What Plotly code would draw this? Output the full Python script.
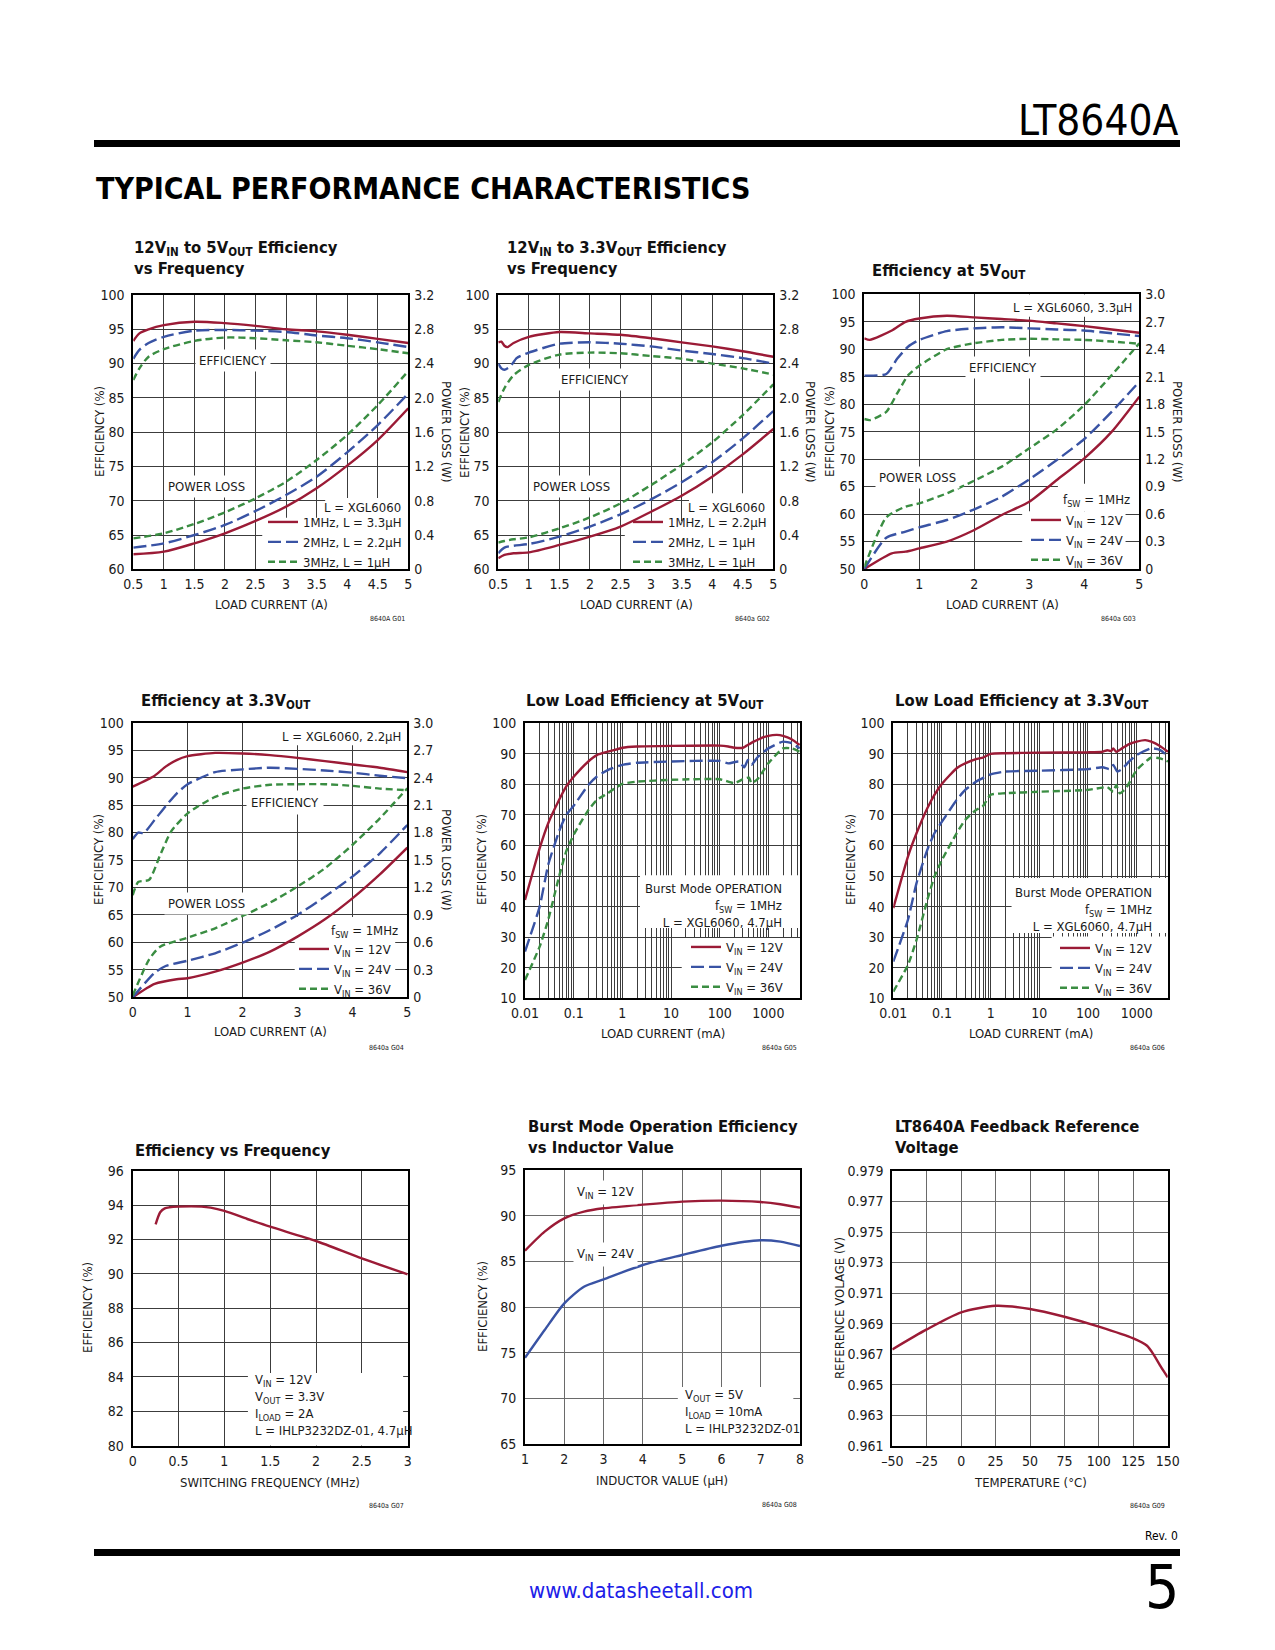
import plotly.graph_objects as go

# ---------------- data ----------------
# Chart 1: 12VIN to 5VOUT efficiency vs frequency
c1_eff_x = [0.5, 0.6, 0.75, 1.0, 1.5, 2.0, 2.5, 3.0, 3.5, 4.0, 4.5, 5.0]
c1_eff_1mhz = [93.3, 94.4, 95.0, 95.6, 96.1, 95.9, 95.5, 95.0, 94.7, 94.2, 93.6, 93.0]
c1_eff_2mhz = [90.7, 92.0, 93.0, 93.9, 94.8, 94.9, 94.8, 94.6, 94.1, 93.7, 93.1, 92.4]
c1_eff_3mhz = [87.6, 89.3, 91.0, 92.1, 93.3, 93.8, 93.7, 93.4, 93.1, 92.6, 92.1, 91.5]
c1_loss_x = [0.5, 1.0, 1.5, 2.0, 2.5, 3.0, 3.5, 4.0, 4.5, 5.0]
c1_loss_1mhz = [0.175, 0.206, 0.303, 0.42, 0.564, 0.731, 0.945, 1.209, 1.508, 1.878]
c1_loss_2mhz = [0.253, 0.303, 0.40, 0.517, 0.680, 0.867, 1.081, 1.364, 1.683, 2.052]
c1_loss_3mhz = [0.361, 0.42, 0.529, 0.665, 0.828, 1.022, 1.275, 1.567, 1.916, 2.313]

# Chart 2: 12VIN to 3.3VOUT efficiency vs frequency
c2_red_x = [0.5, 0.55, 0.6, 0.65, 0.75, 1.0, 1.5, 2.0, 2.5, 3.0, 3.5, 4.0, 4.5, 5.0]
c2_eff_1mhz = [93.1, 93.2, 92.6, 92.4, 93.0, 93.9, 94.6, 94.4, 94.2, 93.7, 93.1, 92.5, 91.8, 91.0]
c2_blue_x = [0.5, 0.55, 0.6, 0.7, 0.8, 1.0, 1.5, 2.0, 2.5, 3.0, 3.5, 4.0, 4.5, 5.0]
c2_eff_2mhz = [90.0, 89.3, 89.1, 89.6, 90.8, 91.6, 92.9, 93.1, 92.9, 92.5, 91.9, 91.4, 90.8, 90.0]
c2_green_x = [0.5, 0.6, 0.75, 1.0, 1.5, 2.0, 2.5, 3.0, 3.5, 4.0, 4.5, 5.0]
c2_eff_3mhz = [84.4, 86.4, 88.3, 89.8, 91.3, 91.6, 91.5, 91.1, 90.7, 90.0, 89.3, 88.4]
c2_loss_x = [0.5, 0.6, 0.75, 1.0, 1.5, 2.0, 2.5, 3.0, 3.5, 4.0, 4.5, 5.0]
c2_loss_1mhz = [0.128, 0.167, 0.187, 0.198, 0.284, 0.381, 0.498, 0.672, 0.859, 1.081, 1.341, 1.637]
c2_loss_2mhz = [0.187, 0.253, 0.275, 0.295, 0.381, 0.498, 0.641, 0.816, 1.015, 1.248, 1.528, 1.846]
c2_loss_3mhz = [0.311, 0.330, 0.350, 0.373, 0.478, 0.606, 0.770, 0.983, 1.217, 1.481, 1.80, 2.157]

# Chart 3: efficiency at 5VOUT
c3_red_x = [0, 0.1, 0.5, 0.75, 1.0, 1.5, 2.0, 2.5, 3.0, 3.5, 4.0, 4.5, 5.0]
c3_eff_12v = [92.0, 91.7, 93.4, 95.0, 95.6, 96.1, 95.8, 95.5, 95.2, 94.7, 94.2, 93.6, 93.0]
c3_blue_x = [0, 0.4, 0.6, 0.8, 1.0, 1.5, 2.0, 2.5, 3.0, 3.5, 4.0, 4.5, 5.0]
c3_eff_24v = [85.2, 85.5, 88.3, 90.5, 91.7, 93.3, 93.8, 94.0, 93.8, 93.6, 93.4, 92.9, 92.4]
c3_green_x = [0, 0.1, 0.4, 0.6, 0.8, 1.0, 1.5, 2.0, 2.5, 3.0, 3.5, 4.0, 4.5, 5.0]
c3_eff_36v = [77.3, 77.1, 78.6, 82.0, 85.3, 87.0, 90.0, 91.1, 91.7, 91.9, 91.8, 91.7, 91.4, 91.0]
c3_loss_red_x = [0, 0.5, 0.75, 1.0, 1.5, 2.0, 2.5, 3.0, 3.5, 4.0, 4.5, 5.0]
c3_loss_12v = [0.0, 0.171, 0.189, 0.226, 0.299, 0.426, 0.590, 0.735, 0.972, 1.209, 1.50, 1.882]
c3_loss_x = [0, 0.4, 0.75, 1.0, 1.5, 2.0, 2.5, 3.0, 3.5, 4.0, 4.5, 5.0]
c3_loss_24v = [0.0, 0.342, 0.408, 0.455, 0.535, 0.652, 0.79, 0.979, 1.190, 1.42, 1.718, 2.046]
c3_loss_36v = [0.02, 0.564, 0.681, 0.717, 0.826, 0.965, 1.118, 1.318, 1.525, 1.791, 2.119, 2.465]

# Chart 4: efficiency at 3.3VOUT
c4_red_x = [0, 0.4, 0.6, 0.8, 1.0, 1.5, 2.0, 2.5, 3.0, 3.5, 4.0, 4.5, 5.0]
c4_eff_12v = [88.35, 90.35, 92.0, 93.2, 93.9, 94.5, 94.4, 94.1, 93.6, 93.0, 92.4, 91.8, 91.0]
c4_blue_x = [0, 0.1, 0.2, 0.4, 0.6, 0.8, 1.0, 1.5, 2.0, 2.5, 3.0, 3.5, 4.0, 4.5, 5.0]
c4_eff_24v = [78.8, 80.0, 79.9, 82.3, 84.8, 87.1, 88.8, 91.0, 91.5, 91.8, 91.6, 91.3, 90.9, 90.35, 89.9]
c4_green_x = [0, 0.1, 0.3, 0.5, 0.7, 1.0, 1.5, 2.0, 2.5, 3.0, 3.5, 4.0, 4.5, 5.0]
c4_eff_36v = [68.6, 71.0, 71.4, 75.9, 80.2, 83.5, 86.5, 88.0, 88.7, 88.8, 88.8, 88.5, 88.0, 87.7]
c4_loss_red_x = [0, 0.4, 0.8, 1.0, 1.5, 2.0, 2.5, 3.0, 3.5, 4.0, 4.5, 5.0]
c4_loss_12v = [0.0, 0.146, 0.197, 0.208, 0.280, 0.379, 0.499, 0.663, 0.852, 1.081, 1.343, 1.635]
c4_loss_blue_x = [0, 0.4, 0.6, 1.0, 1.5, 2.0, 2.5, 3.0, 3.5, 4.0, 4.5, 5.0]
c4_loss_24v = [0.0, 0.269, 0.342, 0.40, 0.481, 0.597, 0.735, 0.899, 1.10, 1.318, 1.573, 1.882]
c4_loss_green_x = [0, 0.3, 0.5, 1.0, 1.5, 2.0, 2.5, 3.0, 3.5, 4.0, 4.5, 5.0]
c4_loss_36v = [0.02, 0.415, 0.553, 0.652, 0.754, 0.888, 1.034, 1.209, 1.409, 1.664, 1.955, 2.283]

# Chart 5: low load efficiency at 5VOUT (mA)
c5_red_x = [0.01, 0.02, 0.03, 0.05, 0.07, 0.1, 0.2, 0.3, 0.5, 0.7, 1, 2, 10, 100, 150, 200, 300, 350, 500, 700, 1000, 1500, 2000, 3000, 4400]
c5_eff_12v = [42.2, 59.1, 67.3, 74.9, 79.3, 82.5, 87.5, 89.6, 90.7, 91.3, 92.0, 92.4, 92.6, 92.7, 92.4, 92.0, 92.0, 92.6, 94.0, 95.1, 95.9, 96.2, 95.9, 94.8, 92.9]
c5_blue_x = [0.01, 0.02, 0.03, 0.05, 0.07, 0.1, 0.2, 0.3, 0.5, 1, 2, 10, 100, 150, 250, 320, 380, 450, 600, 1000, 2000, 3000, 4400]
c5_eff_24v = [25.3, 40.0, 53.7, 64.6, 70.0, 73.0, 79.8, 82.6, 84.7, 86.4, 87.1, 87.5, 87.7, 86.9, 87.5, 85.6, 88.0, 86.4, 88.9, 91.8, 94.0, 93.5, 91.8]
c5_green_x = [0.01, 0.02, 0.03, 0.05, 0.07, 0.1, 0.2, 0.3, 0.5, 0.7, 1, 2, 10, 100, 200, 300, 400, 450, 600, 1000, 2000, 3000, 4400]
c5_eff_36v = [16.0, 26.9, 35.7, 49.8, 58.0, 63.5, 71.6, 74.9, 77.1, 78.7, 80.2, 80.9, 81.5, 81.7, 80.4, 81.7, 82.2, 80.4, 81.7, 86.9, 91.8, 91.8, 90.7]

# Chart 6: low load efficiency at 3.3VOUT (mA)
c6_red_x = [0.01, 0.02, 0.03, 0.05, 0.07, 0.1, 0.2, 0.3, 0.5, 0.7, 1, 2, 10, 100, 200, 250, 300, 330, 380, 500, 700, 1000, 1500, 2000, 3000, 4400]
c6_eff_12v = [39.5, 56.4, 64.0, 72.2, 76.6, 80.2, 85.3, 86.9, 88.3, 88.8, 90.0, 90.2, 90.4, 90.5, 90.7, 91.2, 90.9, 91.8, 90.7, 91.8, 93.2, 94.0, 94.5, 94.0, 92.6, 90.7]
c6_blue_x = [0.01, 0.02, 0.03, 0.05, 0.07, 0.1, 0.2, 0.3, 0.5, 1, 2, 10, 100, 200, 280, 330, 400, 500, 700, 1000, 2000, 3000, 4400]
c6_eff_24v = [22.0, 35.7, 47.7, 58.6, 64.0, 67.8, 74.9, 78.2, 80.9, 83.3, 84.2, 84.5, 85.0, 85.6, 85.0, 86.4, 84.2, 85.0, 87.5, 89.6, 91.8, 91.3, 89.1]
c6_green_x = [0.01, 0.02, 0.03, 0.05, 0.07, 0.1, 0.2, 0.3, 0.5, 0.7, 1, 2, 10, 100, 250, 330, 380, 450, 600, 1000, 2000, 3000, 4400]
c6_eff_36v = [12.2, 20.9, 29.1, 42.2, 49.8, 55.3, 64.0, 68.4, 71.6, 73.0, 76.6, 77.1, 77.6, 78.2, 79.1, 77.6, 79.8, 77.1, 78.7, 84.7, 88.8, 88.5, 87.5]

# Chart 7: efficiency vs switching frequency
c7_freq = [0.25, 0.3, 0.35, 0.4, 0.5, 0.75, 0.85, 1.0, 1.25, 1.5, 2.0, 2.5, 3.0]
c7_eff = [92.88, 93.58, 93.81, 93.87, 93.91, 93.91, 93.85, 93.66, 93.19, 92.74, 91.91, 90.90, 89.97]

# Chart 8: Burst Mode efficiency vs inductor value
c8_ind = [1, 1.5, 2, 2.5, 3, 4, 5, 6, 7, 7.5, 8]
c8_eff_12v = [86.18, 88.26, 89.71, 90.44, 90.81, 91.21, 91.54, 91.65, 91.50, 91.25, 90.88]
c8_eff_24v = [74.47, 77.50, 80.42, 82.24, 83.04, 84.61, 85.70, 86.72, 87.31, 87.16, 86.68]

# Chart 9: feedback reference voltage vs temperature
c9_temp = [-50, -25, 0, 25, 50, 75, 100, 125, 135, 140, 145, 150]
c9_vref = [0.96731, 0.96862, 0.96974, 0.97017, 0.96996, 0.96945, 0.96880, 0.96803, 0.96755, 0.96694, 0.96618, 0.96548]

# tick values / labels
t_load_a = [0.5, 1, 1.5, 2, 2.5, 3, 3.5, 4, 4.5, 5]
t_load_a_lbl = ["0.5", "1", "1.5", "2", "2.5", "3", "3.5", "4", "4.5", "5"]
t_eff60 = [60, 65, 70, 75, 80, 85, 90, 95, 100]
t_loss32 = [0, 0.4, 0.8, 1.2, 1.6, 2.0, 2.4, 2.8, 3.2]
t_loss32_lbl = ["0", "0.4", "0.8", "1.2", "1.6", "2.0", "2.4", "2.8", "3.2"]
t_load5 = [0, 1, 2, 3, 4, 5]
t_eff50 = [50, 55, 60, 65, 70, 75, 80, 85, 90, 95, 100]
t_loss30 = [0, 0.3, 0.6, 0.9, 1.2, 1.5, 1.8, 2.1, 2.4, 2.7, 3.0]
t_loss30_lbl = ["0", "0.3", "0.6", "0.9", "1.2", "1.5", "1.8", "2.1", "2.4", "2.7", "3.0"]
t_ma_decades = [0.01, 0.1, 1, 10, 100, 1000]
t_ma_lbl = ["0.01", "0.1", "1", "10", "100", "1000"]
t_eff10 = [10, 20, 30, 40, 50, 60, 70, 80, 90, 100]
t_freq = [0, 0.5, 1, 1.5, 2, 2.5, 3]
t_freq_lbl = ["0", "0.5", "1", "1.5", "2", "2.5", "3"]
t_eff80 = [80, 82, 84, 86, 88, 90, 92, 94, 96]
t_ind = [1, 2, 3, 4, 5, 6, 7, 8]
t_eff65 = [65, 70, 75, 80, 85, 90, 95]
t_temp = [-50, -25, 0, 25, 50, 75, 100, 125, 150]
t_temp_lbl = ["\u201350", "\u201325", "0", "25", "50", "75", "100", "125", "150"]
t_vref = [0.961, 0.963, 0.965, 0.967, 0.969, 0.971, 0.973, 0.975, 0.977, 0.979]
t_vref_lbl = ["0.961", "0.963", "0.965", "0.967", "0.969", "0.971", "0.973", "0.975", "0.977", "0.979"]

# ---------------- styling ----------------
PAGE_W, PAGE_H = 1275, 1650
OFF = 8                      # default body margin of the html page
W, H = PAGE_W - 2 * OFF, PAGE_H - 2 * OFF
RED = "#9b1b36"
BLUE = "#3953a4"
GREEN = "#3a8d42"
DASH_B = "13px,5px"
DASH_G = "7px,4px"
FONT = "'DejaVu Sans Condensed', 'Liberation Sans Narrow', sans-serif"
INK = "#1a1a1a"
GRID_DARK = "#3c3c3c"
GRID_MID = "#6a6a6a"
TICK = 14


def px(x):
    return (x - OFF) / W


def py(y):
    return 1 - (y - OFF) / H


fig = go.Figure()
layout = dict(width=W, height=H, margin=dict(l=0, r=0, t=0, b=0),
              paper_bgcolor="white", plot_bgcolor="white", showlegend=True,
              font=dict(family=FONT, color=INK))


def ax_id(n, kind):
    return kind if n == 1 else f"{kind}{n}"


def axis_style(grid, standoff):
    return dict(showline=True, mirror=True, linecolor="black", linewidth=2,
                ticks="", showgrid=True, gridcolor=grid, gridwidth=1.2,
                zeroline=False, tickfont=dict(family=FONT, size=TICK, color=INK),
                ticklabelstandoff=standoff, automargin=False, fixedrange=True)


def set_axes(n, box, xr, xt, xl, yr, yt, yl, xtype="linear", grid=GRID_DARK, y2=None, xminor=None):
    l, t, r, b = box
    xa = dict(domain=[px(l), px(r)], anchor=ax_id(n, "y"), type=xtype, range=xr,
              tickmode="array", tickvals=xt, ticktext=xl, **axis_style(grid, 1))
    if xminor:
        xa["minor"] = dict(tickmode="array", tickvals=xminor, showgrid=True, gridcolor=grid,
                           gridwidth=1.2, ticks="")
    layout["xaxis" if n == 1 else f"xaxis{n}"] = xa
    layout["yaxis" if n == 1 else f"yaxis{n}"] = dict(
        domain=[py(b), py(t)], anchor=ax_id(n, "x"), range=yr,
        tickmode="array", tickvals=yt, ticktext=yl, **axis_style(grid, 4))
    if y2:
        m, r2, t2, l2 = y2
        layout[f"yaxis{m}"] = dict(
            overlaying=ax_id(n, "y"), anchor=ax_id(n, "x"), side="right", range=r2,
            tickmode="array", tickvals=t2, ticktext=l2, showgrid=False, showline=False,
            zeroline=False, ticks="", tickfont=dict(family=FONT, size=TICK, color=INK),
            ticklabelstandoff=5, automargin=False, fixedrange=True)


def line(n, x, y, color, dash, name=None, legend=None, yaxis=None, shape="spline", smooth=0.8):
    fig.add_trace(go.Scatter(
        x=x, y=y, mode="lines",
        line=dict(color=color, width=2.4, dash=dash, shape=shape, smoothing=smooth),
        xaxis=ax_id(n, "x"), yaxis=yaxis or ax_id(n, "y"),
        name=name or "", showlegend=name is not None, legend=legend or "legend",
        hoverinfo="skip"))


def text(x, y, s, size=13, xanchor="center", yanchor="middle", align="center",
         bg=None, angle=0, color=INK, family=FONT, pad=2):
    fig.add_annotation(x=px(x), y=py(y), xref="paper", yref="paper", text=s,
                       showarrow=False, font=dict(family=family, size=size, color=color),
                       xanchor=xanchor, yanchor=yanchor, align=align,
                       bgcolor=bg, textangle=angle, borderpad=pad)


def mask(n, x0, x1, y0, y1):
    # white panel hiding grid lines behind labels/legends (drawn between grid and traces)
    fig.add_shape(type="rect", xref=ax_id(n, "x"), yref=ax_id(n, "y"),
                  x0=x0, x1=x1, y0=y0, y1=y1, fillcolor="white", line=dict(width=0),
                  layer="between")


def title(x, y, s):
    text(x, y, "<b>" + s + "</b>", size=16.5, xanchor="left", yanchor="top", align="left",
         color="#111111")


def legend_box(key, x, y):
    layout[key] = dict(x=px(x), y=py(y), xanchor="right", yanchor="bottom",
                       xref="paper", yref="paper", bgcolor="rgba(0,0,0,0)", borderwidth=0,
                       font=dict(family=FONT, size=13, color=INK), tracegroupgap=0,
                       itemwidth=30, traceorder="normal")


BOX = {
    1: (133.3, 295.0, 408.3, 569.3),
    2: (498.3, 295.0, 773.3, 569.3),
    3: (864.3, 294.3, 1139.3, 569.0),
    4: (132.7, 722.7, 407.3, 997.3),
    5: (525.0, 723.3, 800.0, 998.3),
    6: (893.3, 723.3, 1168.3, 998.3),
    7: (132.7, 1170.7, 407.7, 1445.7),
    8: (525.0, 1170.0, 800.0, 1444.3),
    9: (892.3, 1171.0, 1167.7, 1445.7),
}

# ---------------- axes ----------------
set_axes(1, BOX[1], [0.5, 5], t_load_a, t_load_a_lbl, [60, 100], t_eff60, [str(v) for v in t_eff60],
         y2=(10, [0, 3.2], t_loss32, t_loss32_lbl))
set_axes(2, BOX[2], [0.5, 5], t_load_a, t_load_a_lbl, [60, 100], t_eff60, [str(v) for v in t_eff60],
         y2=(11, [0, 3.2], t_loss32, t_loss32_lbl))
set_axes(3, BOX[3], [0, 5], t_load5, [str(v) for v in t_load5], [50, 100], t_eff50, [str(v) for v in t_eff50],
         y2=(12, [0, 3.0], t_loss30, t_loss30_lbl))
set_axes(4, BOX[4], [0, 5], t_load5, [str(v) for v in t_load5], [50, 100], t_eff50, [str(v) for v in t_eff50],
         y2=(13, [0, 3.0], t_loss30, t_loss30_lbl))

log_minor = [round(m * 10.0 ** e, 4) for e in range(-2, 4) for m in range(2, 10) if m * 10.0 ** e < 4400]
set_axes(5, BOX[5], [-2, 3.65], t_ma_decades, t_ma_lbl, [10, 100], t_eff10, [str(v) for v in t_eff10],
         xtype="log", xminor=log_minor)
set_axes(6, BOX[6], [-2, 3.65], t_ma_decades, t_ma_lbl, [10, 100], t_eff10, [str(v) for v in t_eff10],
         xtype="log", xminor=log_minor)
set_axes(7, BOX[7], [0, 3], t_freq, t_freq_lbl, [80, 96], t_eff80, [str(v) for v in t_eff80])
set_axes(8, BOX[8], [1, 8], t_ind, [str(v) for v in t_ind], [65, 95], t_eff65, [str(v) for v in t_eff65], grid=GRID_MID)
set_axes(9, BOX[9], [-50, 150], t_temp, t_temp_lbl, [0.961, 0.979], t_vref, t_vref_lbl, grid=GRID_MID)

# ---------------- masks (data units of each panel) ----------------
mask(1, 3.64, 5, 60, 70.4)
mask(1, 2.61, 5, 60, 67.5)
mask(2, 3.62, 5, 60, 71.1)
mask(2, 2.57, 5, 60, 67.0)
mask(3, 2.74, 5, 95.9, 100)
mask(3, 3.52, 5, 60.5, 65.5)
mask(3, 2.87, 4.75, 50, 60.5)
mask(4, 2.71, 5, 95.9, 100)
mask(4, 2.95, 4.78, 50, 64.6)
mask(5, 2.3, 5000, 33.0, 50.3)
mask(5, 16.6, 5000, 10, 29.7)
mask(6, 2.69, 5000, 31.4, 49.4)
mask(6, 17.9, 5000, 10, 30.2)
mask(7, 1.257, 2.95, 80, 84.23)
mask(8, 4.89, 7.83, 65, 71.27)

# ---------------- traces ----------------
line(1, c1_eff_x, c1_eff_1mhz, RED, "solid", "1MHz, L = 3.3\u00b5H", "legend")
line(1, c1_eff_x, c1_eff_2mhz, BLUE, DASH_B, "2MHz, L = 2.2\u00b5H", "legend")
line(1, c1_eff_x, c1_eff_3mhz, GREEN, DASH_G, "3MHz, L = 1\u00b5H", "legend")
line(1, c1_loss_x, c1_loss_1mhz, RED, "solid", yaxis="y10")
line(1, c1_loss_x, c1_loss_2mhz, BLUE, DASH_B, yaxis="y10")
line(1, c1_loss_x, c1_loss_3mhz, GREEN, DASH_G, yaxis="y10")

line(2, c2_red_x, c2_eff_1mhz, RED, "solid", "1MHz, L = 2.2\u00b5H", "legend2", smooth=0.6)
line(2, c2_blue_x, c2_eff_2mhz, BLUE, DASH_B, "2MHz, L = 1\u00b5H", "legend2", smooth=0.6)
line(2, c2_green_x, c2_eff_3mhz, GREEN, DASH_G, "3MHz, L = 1\u00b5H", "legend2")
line(2, c2_loss_x, c2_loss_1mhz, RED, "solid", yaxis="y11")
line(2, c2_loss_x, c2_loss_2mhz, BLUE, DASH_B, yaxis="y11")
line(2, c2_loss_x, c2_loss_3mhz, GREEN, DASH_G, yaxis="y11")

line(3, c3_red_x, c3_eff_12v, RED, "solid", "V<sub>IN</sub> = 12V", "legend3", smooth=0.6)
line(3, c3_blue_x, c3_eff_24v, BLUE, DASH_B, "V<sub>IN</sub> = 24V", "legend3", smooth=0.6)
line(3, c3_green_x, c3_eff_36v, GREEN, DASH_G, "V<sub>IN</sub> = 36V", "legend3", smooth=0.6)
line(3, c3_loss_red_x, c3_loss_12v, RED, "solid", yaxis="y12", smooth=0.6)
line(3, c3_loss_x, c3_loss_24v, BLUE, DASH_B, yaxis="y12", smooth=0.6)
line(3, c3_loss_x, c3_loss_36v, GREEN, DASH_G, yaxis="y12", smooth=0.6)

line(4, c4_red_x, c4_eff_12v, RED, "solid", "V<sub>IN</sub> = 12V", "legend4", smooth=0.6)
line(4, c4_blue_x, c4_eff_24v, BLUE, DASH_B, "V<sub>IN</sub> = 24V", "legend4", smooth=0.6)
line(4, c4_green_x, c4_eff_36v, GREEN, DASH_G, "V<sub>IN</sub> = 36V", "legend4", smooth=0.6)
line(4, c4_loss_red_x, c4_loss_12v, RED, "solid", yaxis="y13", smooth=0.6)
line(4, c4_loss_blue_x, c4_loss_24v, BLUE, DASH_B, yaxis="y13", smooth=0.6)
line(4, c4_loss_green_x, c4_loss_36v, GREEN, DASH_G, yaxis="y13", smooth=0.6)

line(5, c5_red_x, c5_eff_12v, RED, "solid", "V<sub>IN</sub> = 12V", "legend5", smooth=0.5)
line(5, c5_blue_x, c5_eff_24v, BLUE, DASH_B, "V<sub>IN</sub> = 24V", "legend5", smooth=0.5)
line(5, c5_green_x, c5_eff_36v, GREEN, DASH_G, "V<sub>IN</sub> = 36V", "legend5", smooth=0.5)

line(6, c6_red_x, c6_eff_12v, RED, "solid", "V<sub>IN</sub> = 12V", "legend6", smooth=0.5)
line(6, c6_blue_x, c6_eff_24v, BLUE, DASH_B, "V<sub>IN</sub> = 24V", "legend6", smooth=0.5)
line(6, c6_green_x, c6_eff_36v, GREEN, DASH_G, "V<sub>IN</sub> = 36V", "legend6", smooth=0.5)

line(7, c7_freq, c7_eff, RED, "solid", smooth=0.7)
line(8, c8_ind, c8_eff_12v, RED, "solid", smooth=0.7)
line(8, c8_ind, c8_eff_24v, BLUE, "solid", smooth=0.7)
line(9, c9_temp, c9_vref, RED, "solid", smooth=0.7)

# ---------------- legends ----------------
legend_box("legend", 407, 577)
legend_box("legend2", 772, 577)
legend_box("legend3", 1128, 575)
legend_box("legend4", 396, 1004)
legend_box("legend5", 788, 1002)
legend_box("legend6", 1157, 1003)

# ---------------- in-plot labels ----------------
W_BG = "white"
text(233, 360, "EFFICIENCY", bg=W_BG, pad=3)
text(206, 486, "POWER LOSS", bg=W_BG, pad=3)
text(404, 507, "L = XGL6060", xanchor="right")
text(595, 380, "EFFICIENCY", bg=W_BG, pad=3)
text(571, 486, "POWER LOSS", bg=W_BG, pad=3)
text(768, 507, "L = XGL6060", xanchor="right")
text(1135, 307, "L = XGL6060, 3.3\u00b5H", xanchor="right")
text(1003, 367, "EFFICIENCY", bg=W_BG, pad=3)
text(917, 477, "POWER LOSS", bg=W_BG, pad=3)
text(1133, 500, "f<sub>SW</sub> = 1MHz", xanchor="right")
text(404, 736, "L = XGL6060, 2.2\u00b5H", xanchor="right")
text(285, 802, "EFFICIENCY", bg=W_BG, pad=4)
text(206, 903, "POWER LOSS", bg=W_BG, pad=3)
text(401, 931, "f<sub>SW</sub> = 1MHz", xanchor="right")
text(785, 905, "Burst Mode OPERATION<br>f<sub>SW</sub> = 1MHz<br>L = XGL6060, 4.7\u00b5H",
     xanchor="right", align="right")
text(1155, 909, "Burst Mode OPERATION<br>f<sub>SW</sub> = 1MHz<br>L = XGL6060, 4.7\u00b5H",
     xanchor="right", align="right")
text(252, 1405, "V<sub>IN</sub> = 12V<br>V<sub>OUT</sub> = 3.3V<br>I<sub>LOAD</sub> = 2A<br>L = IHLP3232DZ-01, 4.7\u00b5H",
     xanchor="left", align="left")
text(605, 1192, "V<sub>IN</sub> = 12V", bg=W_BG, pad=3)
text(605, 1254, "V<sub>IN</sub> = 24V", bg=W_BG, pad=3)
text(682, 1411, "V<sub>OUT</sub> = 5V<br>I<sub>LOAD</sub> = 10mA<br>L = IHLP3232DZ-01",
     xanchor="left", align="left")

# ---------------- axis titles ----------------
for cx, cy in [(100, 432), (465, 432), (830, 432), (99, 860), (482, 860), (851, 860),
               (87, 1308), (482, 1307)]:
    text(cx, cy, "EFFICIENCY (%)", angle=-90)
text(839, 1308, "REFERENCE VOLAGE (V)", angle=-90)
for cx, cy in [(446, 432), (810, 432), (1177, 432), (446, 860)]:
    text(cx, cy, "POWER LOSS (W)", angle=90)
for cx, cy in [(271, 604), (636, 604), (1002, 604), (270, 1032)]:
    text(cx, cy, "LOAD CURRENT (A)")
text(663, 1033, "LOAD CURRENT (mA)")
text(1031, 1033, "LOAD CURRENT (mA)")
text(270, 1482, "SWITCHING FREQUENCY (MHz)")
text(662, 1480, "INDUCTOR VALUE (\u00b5H)")
text(1030, 1482, "TEMPERATURE (\u00b0C)")

# ---------------- chart titles ----------------
title(131, 235, "12V<sub>IN</sub> to 5V<sub>OUT</sub> Efficiency<br>vs Frequency")
title(504, 235, "12V<sub>IN</sub> to 3.3V<sub>OUT</sub> Efficiency<br>vs Frequency")
title(869, 258, "Efficiency at 5V<sub>OUT</sub>")
title(138, 688, "Efficiency at 3.3V<sub>OUT</sub>")
title(523, 688, "Low Load Efficiency at 5V<sub>OUT</sub>")
title(892, 688, "Low Load Efficiency at 3.3V<sub>OUT</sub>")
title(132, 1138, "Efficiency vs Frequency")
title(525, 1114, "Burst Mode Operation Efficiency<br>vs Inductor Value")
title(892, 1114, "LT8640A Feedback Reference<br>Voltage")

# ---------------- figure ids ----------------
for (rx, ry, s) in [(408, 619, "8640A G01"), (773, 619, "8640a G02"), (1139, 619, "8640a G03"),
                    (407, 1048, "8640a G04"), (800, 1048, "8640a G05"), (1168, 1048, "8640a G06"),
                    (407, 1506, "8640a G07"), (800, 1505, "8640a G08"), (1168, 1506, "8640a G09")]:
    text(rx, ry, s, size=7, xanchor="right")

# ---------------- page header / footer ----------------
fig.add_shape(type="rect", xref="paper", yref="paper", x0=px(94), x1=px(1180), y0=py(147), y1=py(140),
              fillcolor="black", line=dict(width=0))
fig.add_shape(type="rect", xref="paper", yref="paper", x0=px(94), x1=px(1180), y0=py(1556), y1=py(1549),
              fillcolor="black", line=dict(width=0))
text(1181, 121, "LT8640A", size=42, xanchor="right", color="black")
text(93, 188, "<b>TYPICAL PERFORMANCE CHARACTERISTICS</b>", size=30, xanchor="left", color="black")
text(1181, 1536, "Rev. 0", size=12, xanchor="right", color="black")
text(641, 1590, "www.datasheetall.com", size=22, color="#2020e8")
text(1182, 1587, "5", size=60, xanchor="right", color="black")

fig.update_layout(**layout)
fig.write_html("out.html")
